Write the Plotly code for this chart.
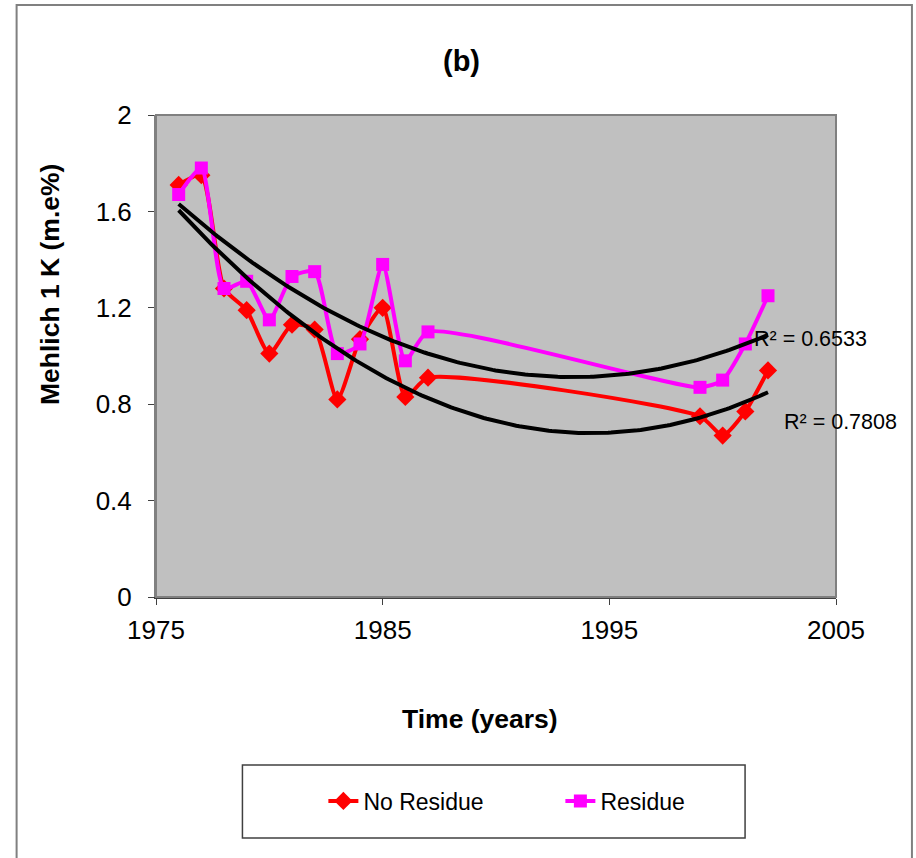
import numpy as np
import plotly.graph_objects as go

W, H = 916, 858
# plot area in pixels
L, R, T, B = 155.5, 836, 115, 597

years = [1976, 1977, 1978, 1979, 1980, 1981, 1982, 1983, 1984, 1985, 1986, 1987,
         1999, 2000, 2001, 2002]
no_residue = [1.71, 1.75, 1.28, 1.19, 1.01, 1.13, 1.11, 0.82, 1.07, 1.20, 0.83, 0.91,
              0.75, 0.67, 0.77, 0.94]
residue = [1.67, 1.78, 1.28, 1.31, 1.15, 1.33, 1.35, 1.01, 1.05, 1.38, 0.98, 1.10,
           0.87, 0.90, 1.05, 1.25]

r2_labels = ['R² = 0.6533', 'R² = 0.7808']

font_family = 'Arial, Liberation Sans, sans-serif'


def px_x(p):
    return (p - L) / (R - L)


def px_y(p):
    return (B - p) / (B - T)


fig = go.Figure()

# Excel-style smoothed series
fig.add_trace(go.Scatter(
    x=years, y=no_residue, name='No Residue',
    mode='lines+markers', line=dict(color='#FF0000', width=4, shape='spline', smoothing=0.6),
    marker=dict(symbol='diamond', size=14, color='#FF0000')
))
fig.add_trace(go.Scatter(
    x=years, y=residue, name='Residue',
    mode='lines+markers', line=dict(color='#FF00FF', width=4, shape='spline', smoothing=0.6),
    marker=dict(symbol='square', size=13, color='#FF00FF')
))

# 2nd order polynomial trendlines
xs = np.linspace(min(years), max(years), 200)
for series in (no_residue, residue):
    coef = np.polyfit(years, series, 2)
    fig.add_trace(go.Scatter(
        x=xs, y=np.polyval(coef, xs), mode='lines',
        line=dict(color='black', width=4), showlegend=False, hoverinfo='skip'
    ))

fig.update_layout(
    width=W, height=H,
    margin=dict(l=L, r=W - R, t=T, b=H - B, autoexpand=False),
    paper_bgcolor='white',
    plot_bgcolor='#C0C0C0',
    font=dict(family=font_family, size=26, color='black'),
    showlegend=True,
    legend=dict(
        orientation='h', x=px_x(323), xanchor='left', y=px_y(801), yanchor='middle',
        bgcolor='rgba(0,0,0,0)', font=dict(size=23), entrywidth=192
    ),
    xaxis=dict(
        range=[1975, 2005], dtick=10, tick0=1975, automargin=False,
        showgrid=False, zeroline=False, ticks='outside', ticklen=6, tickcolor='#404040',
        showline=True, linecolor='#404040', linewidth=2,
        ticklabelstandoff=3, tickfont=dict(size=26)
    ),
    yaxis=dict(
        range=[0, 2], dtick=0.4, automargin=False,
        showgrid=False, zeroline=False, ticks='outside', ticklen=6, tickcolor='#404040',
        showline=True, linecolor='#808080', linewidth=2,
        ticklabelstandoff=11, tickfont=dict(size=26)
    ),
    shapes=[
        # plot area border
        dict(type='rect', xref='paper', yref='paper', x0=0, x1=1, y0=0, y1=1,
             line=dict(color='#808080', width=2)),
        # outer chart border
        dict(type='rect', xref='paper', yref='paper', x0=px_x(16), x1=px_x(912),
             y0=px_y(880), y1=px_y(5), line=dict(color='#808080', width=2)),
        # legend box
        dict(type='rect', xref='paper', yref='paper', x0=px_x(242), x1=px_x(745),
             y0=px_y(838), y1=px_y(765), line=dict(color='#404040', width=1.5)),
    ],
    annotations=[
        dict(text='<b>(b)</b>', xref='paper', yref='paper', x=px_x(461), y=px_y(61),
             xanchor='center', yanchor='middle', showarrow=False, font=dict(size=29)),
        dict(text='<b>Time (years)</b>', xref='paper', yref='paper', x=px_x(480), y=px_y(719),
             xanchor='center', yanchor='middle', showarrow=False, font=dict(size=26.5)),
        dict(text='<b>Mehlich 1 K (m.e%)</b>', xref='paper', yref='paper', x=px_x(49.5),
             y=px_y(284), xanchor='center', yanchor='middle', textangle=-90,
             showarrow=False, font=dict(size=26.5)),
        dict(text=r2_labels[0], xref='paper', yref='paper', x=px_x(752), y=px_y(339),
             xanchor='left', yanchor='middle', showarrow=False, font=dict(size=21.5)),
        dict(text=r2_labels[1], xref='paper', yref='paper', x=px_x(782), y=px_y(422),
             xanchor='left', yanchor='middle', showarrow=False, font=dict(size=21.5)),
    ]
)

fig.write_html('out.html', config={'displayModeBar': False},
               post_script="document.body.style.margin='0';")
